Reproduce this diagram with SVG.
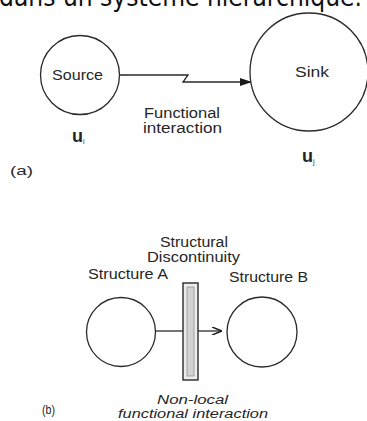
<svg xmlns="http://www.w3.org/2000/svg" width="367" height="421" viewBox="0 0 367 421">
<defs>
<style>
text{font-family:"Liberation Sans",Arial,sans-serif;fill:#262626}
.lbl{font-size:14px}
.it{font-size:12.5px;font-style:italic}
.cap{font-size:12px}
.sub{font-size:18px;font-weight:bold}
.node{fill:#fff;stroke:#2a2a2a;stroke-width:1.3}
.line{fill:none;stroke:#2a2a2a;stroke-width:1.3}
</style>
<marker id="ah" viewBox="0 0 12 8" refX="12" refY="4" markerWidth="12" markerHeight="8" markerUnits="userSpaceOnUse" orient="auto">
<path d="M0,0 L12,4 L0,8 Z" fill="#1a1a1a"/>
</marker>
<marker id="ah2" viewBox="0 0 10 8" refX="10" refY="4" markerWidth="10" markerHeight="8" markerUnits="userSpaceOnUse" orient="auto">
<path d="M0,0 L10,4 L0,8" fill="none" stroke="#1a1a1a" stroke-width="1.5"/>
</marker>
</defs>
<rect width="367" height="421" fill="#fff"/>
<text x="-1" y="6" font-size="26" textLength="363" lengthAdjust="spacingAndGlyphs" style="font-family:'DejaVu Sans',sans-serif;fill:#111">dans un système hiérarchique.</text>

<g id="connectors">
<polyline class="line" points="120,75 188,75 183,82 252,82" marker-end="url(#ah)"/>
<line class="line" x1="155" y1="331" x2="183" y2="331"/>
<line class="line" x1="198" y1="331" x2="222" y2="331" marker-end="url(#ah2)"/>
</g>

<g id="source">
<circle class="node" cx="80" cy="75" r="39.5"/>
<text class="lbl" x="52" y="80" textLength="51" lengthAdjust="spacingAndGlyphs">Source</text>
<text class="sub" x="72" y="142">u<tspan font-size="7" font-weight="normal" dy="2">i</tspan></text>
</g>

<g id="sink">
<circle class="node" cx="309" cy="72" r="59"/>
<text class="lbl" x="295" y="77" textLength="34" lengthAdjust="spacingAndGlyphs">Sink</text>
<text class="sub" x="302" y="162">u<tspan font-size="7" font-weight="normal" dy="2">j</tspan></text>
</g>

<g id="functional-label">
<text class="lbl" x="144" y="118" textLength="76" lengthAdjust="spacingAndGlyphs">Functional</text>
<text class="lbl" x="143" y="133" textLength="79" lengthAdjust="spacingAndGlyphs">interaction</text>
</g>
<text class="cap" x="10" y="175" textLength="23" lengthAdjust="spacingAndGlyphs">(a)</text>

<g id="discontinuity">
<text class="lbl" x="160" y="247" textLength="68" lengthAdjust="spacingAndGlyphs">Structural</text>
<text class="lbl" x="147" y="262" textLength="93" lengthAdjust="spacingAndGlyphs">Discontinuity</text>
<rect x="183" y="283" width="15" height="97" fill="#ececec" stroke="#2a2a2a" stroke-width="1.4"/>
<rect x="187" y="287" width="7" height="89" fill="#d2d2d2" stroke="#888" stroke-width="0.7"/>
</g>

<g id="structure-a">
<text class="lbl" x="88" y="279" textLength="80" lengthAdjust="spacingAndGlyphs">Structure A</text>
<circle class="node" cx="121" cy="332" r="34.5"/>
</g>

<g id="structure-b">
<text class="lbl" x="229" y="282" textLength="79" lengthAdjust="spacingAndGlyphs">Structure B</text>
<circle class="node" cx="262" cy="332" r="35"/>
</g>

<g id="nonlocal-label">
<text class="it" x="157" y="404" textLength="71" lengthAdjust="spacingAndGlyphs">Non-local</text>
<text class="it" x="118" y="418" textLength="150" lengthAdjust="spacingAndGlyphs">functional interaction</text>
</g>
<text class="cap" x="42" y="414" font-size="11" textLength="13" lengthAdjust="spacingAndGlyphs">(b)</text>
</svg>
